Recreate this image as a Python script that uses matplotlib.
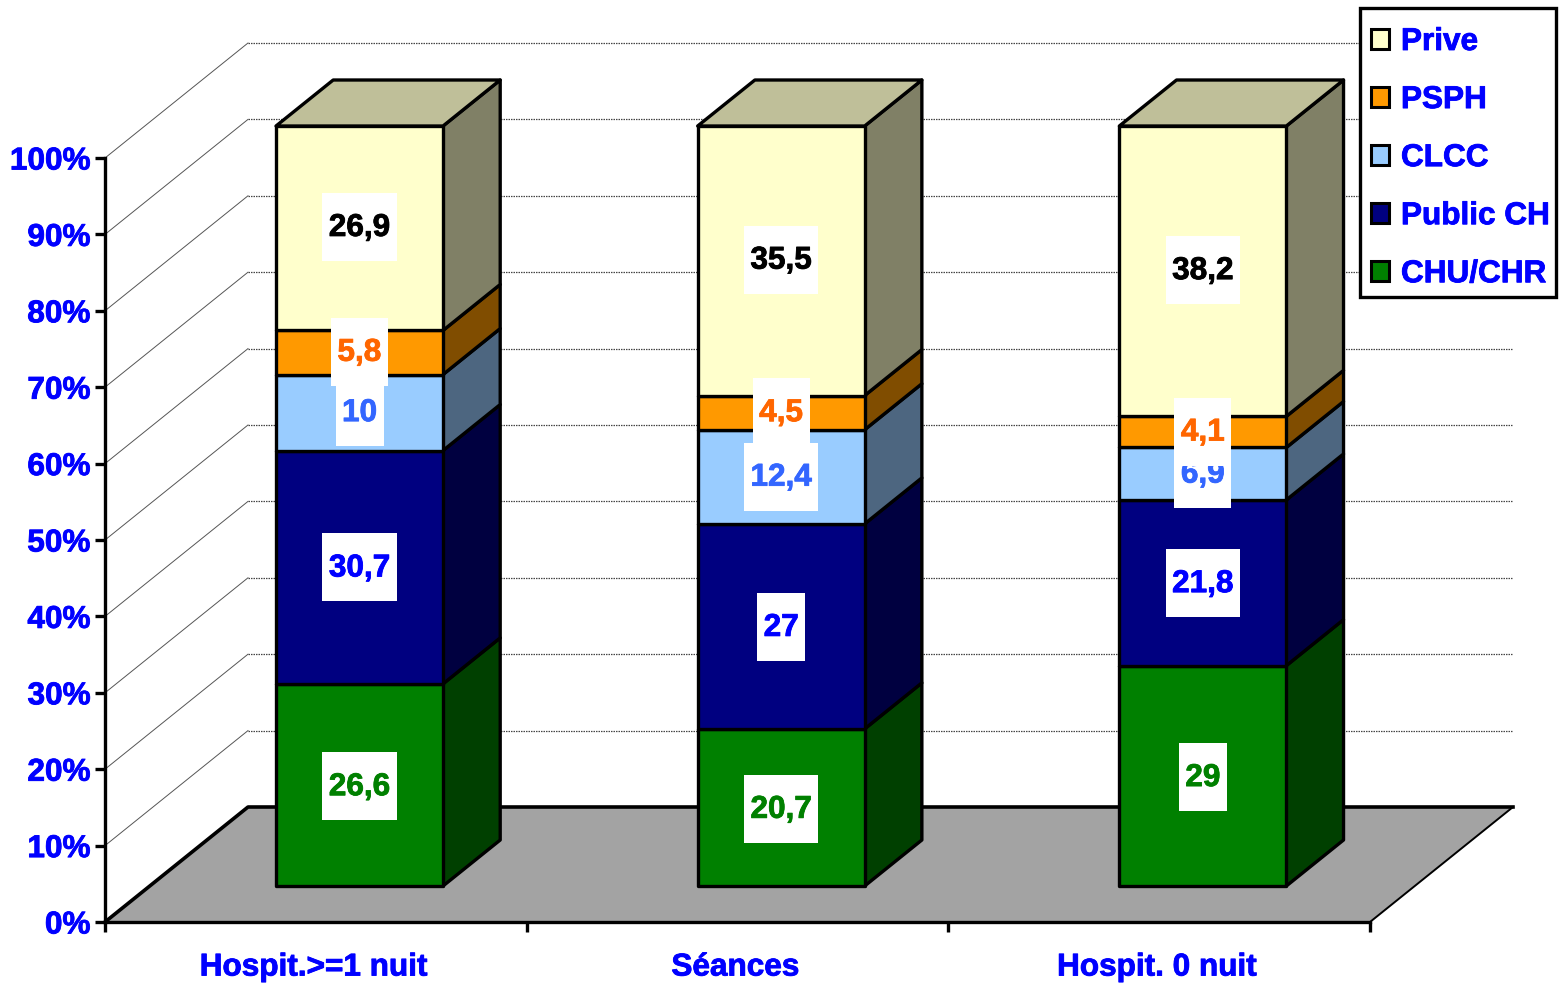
import matplotlib
matplotlib.use("Agg")
import matplotlib.pyplot as plt
from matplotlib.patches import Patch, Polygon, Rectangle
from matplotlib.patheffects import withStroke
from matplotlib.text import Text

plt.rcParams['font.family'] = ['Liberation Sans', 'DejaVu Sans']
plt.rcParams['font.weight'] = 'bold'

categories = ['Hospit.>=1 nuit', 'Séances', 'Hospit. 0 nuit']
y_ticks = [0, 10, 20, 30, 40, 50, 60, 70, 80, 90, 100]

# stacked from bottom to top
series_names = ['CHU/CHR', 'Public CH', 'CLCC', 'PSPH', 'Prive']
chu_chr = [26.6, 20.7, 29]
public_ch = [30.7, 27, 21.8]
clcc = [10, 12.4, 6.9]
psph = [5.8, 4.5, 4.1]
prive = [26.9, 35.5, 38.2]
series_values = [chu_chr, public_ch, clcc, psph, prive]

front_colors = ['#008000', '#000080', '#99CCFF', '#FF9900', '#FFFFCC']
side_colors = ['#004000', '#000040', '#4D6680', '#804D00', '#808066']
label_colors = ['#008000', '#0000FF', '#3366FF', '#FF6600', '#000000']
top_color = '#BFBF99'
BLUE = '#0000FF'

W, H = 1564, 985
AX_LEFT, AX_RIGHT, AX_BOTTOM, AX_TOP = 105, 1370, 922, 158
FONT = 22.7
EDGE = 2.4

# 3D box, expressed in data units: x in categories, y in percent
PX_X = (AX_RIGHT - AX_LEFT) / 3
PX_Y = (AX_BOTTOM - AX_TOP) / 100
DEPTH_X = 143 / PX_X
DEPTH_Y = 115 / PX_Y
BAR_INSET = 171 / PX_X - 0.313 * DEPTH_X
BAR_WIDTH = 167 / PX_X
BAR_SCALE = 760 / 764
BAR_FRONT, BAR_BACK = 0.313, 0.713


def proj(x, pct, depth=0.0):
    return x + depth * DEPTH_X, pct + depth * DEPTH_Y


def face(ax, corners, color, z, lw=EDGE):
    ax.add_patch(Polygon([proj(*c) for c in corners], closed=True, facecolor=color,
                         edgecolor='black', linewidth=lw, joinstyle='round',
                         clip_on=False, zorder=z))


fig = plt.figure(figsize=(W / 100, H / 100), dpi=100, facecolor='white')
ax = fig.add_axes([AX_LEFT / W, (H - AX_BOTTOM) / H, (AX_RIGHT - AX_LEFT) / W, (AX_BOTTOM - AX_TOP) / H])
ax.set_xlim(0, 3)
ax.set_ylim(0, 100)
ax.patch.set_visible(False)

# walls and floor
for p in y_ticks[1:]:
    x0, y0 = proj(0, p)
    x1, y1 = proj(0, p, 1)
    x2, y2 = proj(3, p, 1)
    ax.plot([x0, x1], [y0, y1], color='#555555', lw=0.7, clip_on=False, zorder=1)
    ax.plot([x1, x2], [y1, y2], color='#444444', lw=0.9, ls=(0, (1.2, 0.8)), clip_on=False, zorder=1)

ax.add_patch(Polygon([proj(0, 0), proj(0, 0, 1), proj(3, 0, 1), proj(3, 0)], closed=True,
                     facecolor='#A3A3A3', edgecolor='none', clip_on=False, zorder=2))
xs, ys = zip(proj(0, 0), proj(0, 0, 1), proj(3, 0, 1))
ax.plot(xs, ys, color='black', lw=2.6, clip_on=False, zorder=2.5)
xs, ys = zip(proj(3, 0, 1), proj(3, 0))
ax.plot(xs, ys, color='black', lw=1.4, clip_on=False, zorder=2.5)

# bars
for i in range(len(categories)):
    left = i + BAR_INSET
    right = left + BAR_WIDTH
    total = sum(v[i] for v in series_values)
    base = 0.0
    for s, values in enumerate(series_values):
        lo = base * 100 / total * BAR_SCALE
        hi = (base + values[i]) * 100 / total * BAR_SCALE
        face(ax, [(right, lo, BAR_FRONT), (right, lo, BAR_BACK), (right, hi, BAR_BACK), (right, hi, BAR_FRONT)],
             side_colors[s], 3)
        face(ax, [(left, lo, BAR_FRONT), (right, lo, BAR_FRONT), (right, hi, BAR_FRONT), (left, hi, BAR_FRONT)],
             front_colors[s], 4)
        base += values[i]
    top = 100 * BAR_SCALE
    face(ax, [(left, top, BAR_FRONT), (right, top, BAR_FRONT), (right, top, BAR_BACK), (left, top, BAR_BACK)],
         top_color, 4)

# value labels sit on white boxes, later ones covering earlier ones
renderer = fig.canvas.get_renderer()
z = 5.0
for i in range(len(categories)):
    left = i + BAR_INSET
    total = sum(v[i] for v in series_values)
    base = 0.0
    for s, values in enumerate(series_values):
        mid = (base + values[i] / 2) * 100 / total * BAR_SCALE
        cx, cy = proj(left + BAR_WIDTH / 2, mid, BAR_FRONT)
        # labels spread a little more than the bar segments do
        cy += (mid - 50) * 0.035 / PX_Y
        label = f'{values[i]:g}'.replace('.', ',')
        t = ax.text(cx, cy - 9 / PX_Y, label, color=label_colors[s], fontsize=FONT,
                    ha='center', va='baseline', clip_on=False, zorder=z + 0.1)
        box_w = t.get_window_extent(renderer).width + 13
        ax.add_patch(Rectangle((cx - box_w / 2 / PX_X, cy - 34 / PX_Y), box_w / PX_X, 68 / PX_Y,
                               facecolor='white', edgecolor='none', clip_on=False, zorder=z))
        z += 0.2
        base += values[i]

# axes
for side in ['top', 'right']:
    ax.spines[side].set_visible(False)
for side in ['left', 'bottom']:
    ax.spines[side].set_linewidth(2.4)
    ax.spines[side].set_zorder(4.5)
ax.set_yticks(y_ticks)
ax.set_yticklabels([f'{p}%' for p in y_ticks], color=BLUE, fontsize=FONT, fontweight='bold')
ax.set_xticks([0, 1, 2, 3])
ax.set_xticklabels([])
ax.set_xticks([0.495, 1.495, 2.495], minor=True)
ax.set_xticklabels(categories, minor=True, color=BLUE, fontsize=FONT, fontweight='bold')
ax.tick_params(axis='both', which='major', direction='out', length=7.5, width=2.4, color='black')
ax.tick_params(axis='y', pad=3)
ax.tick_params(axis='x', which='minor', length=0, pad=22)

# legend lists the top of the stack first, inside its own frame
ax.add_patch(Rectangle((1360 / W, (H - 297) / H), 196 / W, 289 / H, transform=fig.transFigure,
                       facecolor='white', edgecolor='black', linewidth=2.4, clip_on=False, zorder=19))
handles = [Patch(facecolor=front_colors[s], edgecolor='black', linewidth=2.2, label=series_names[s])
           for s in reversed(range(len(series_names)))]
leg = ax.legend(handles=handles, loc='upper left', bbox_to_anchor=(1371 / W, (H - 27) / H),
                bbox_transform=fig.transFigure, frameon=False, borderaxespad=0, borderpad=0,
                handlelength=0.57, handleheight=0.57, handletextpad=0.38, labelspacing=0.89,
                labelcolor=BLUE, prop={'weight': 'bold', 'size': FONT})
leg.set_zorder(20)

# slightly heavier strokes on all the lettering
for t in fig.findobj(Text):
    t.set_path_effects([withStroke(linewidth=0.6, foreground=t.get_color())])

fig.savefig('out.png', dpi=100)
